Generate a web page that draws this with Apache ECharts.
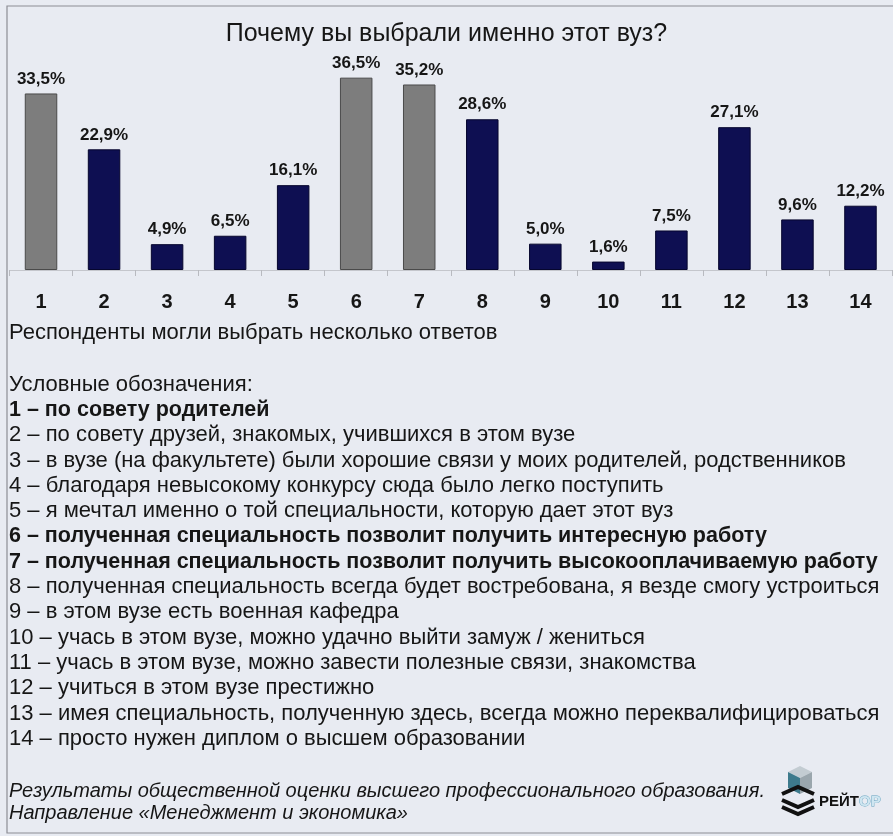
<!DOCTYPE html>
<html><head><meta charset="utf-8">
<script src="https://cdn.jsdelivr.net/npm/echarts@6/dist/echarts.min.js"></script>
<style>html,body{margin:0;padding:0;background:#e8ebf2}#c{width:893px;height:836px}</style>
</head><body><div id="c"></div>
<script>
const titleText = 'Почему вы выбрали именно этот вуз?';
const categories = ['1','2','3','4','5','6','7','8','9','10','11','12','13','14'];
const values = [33.5, 22.9, 4.9, 6.5, 16.1, 36.5, 35.2, 28.6, 5.0, 1.6, 7.5, 27.1, 9.6, 12.2];
const greyCategories = ['1', '6', '7'];
const noteText = 'Респонденты могли выбрать несколько ответов';
const legendHeader = 'Условные обозначения:';
const legendItems = [
  '1 – по совету родителей',
  '2 – по совету друзей, знакомых, учившихся в этом вузе',
  '3 – в вузе (на факультете) были хорошие связи у моих родителей, родственников',
  '4 – благодаря невысокому конкурсу сюда было легко поступить',
  '5 – я мечтал именно о той специальности, которую дает этот вуз',
  '6 – полученная специальность позволит получить интересную работу',
  '7 – полученная специальность позволит получить высокооплачиваемую работу',
  '8 – полученная специальность всегда будет востребована, я везде смогу устроиться',
  '9 – в этом вузе есть военная кафедра',
  '10 – учась в этом вузе, можно удачно выйти замуж / жениться',
  '11 – учась в этом вузе, можно завести полезные связи, знакомства',
  '12 – учиться в этом вузе престижно',
  '13 – имея специальность, полученную здесь, всегда можно переквалифицироваться',
  '14 – просто нужен диплом о высшем образовании'
];
const sourceLines = [
  'Результаты общественной оценки высшего профессионального образования.',
  'Направление «Менеджмент и экономика»'
];
const logoText = ['РЕЙТ', 'ОР'];

const FONT = '"Liberation Sans", Arial, sans-serif';
const chart = echarts.init(document.getElementById('c'), null, {renderer: 'canvas'});

const textEls = [];
function addText(str, y, size, weight, style) {
  textEls.push({
    type: 'text', x: 9, y: y,
    style: {text: str, fontFamily: FONT, fontSize: size, fontWeight: weight || 'normal',
            fontStyle: style || 'normal', fill: '#161616', textVerticalAlign: 'middle'}
  });
}
addText(noteText, 333, 22);
addText(legendHeader, 385, 22);
legendItems.forEach((s, i) => {
  const bold = greyCategories.includes(String(i + 1));
  addText(s, 410 + i * 25.3, bold ? 21.5 : 22, bold ? 'bold' : 'normal');
});
addText(sourceLines[0], 791, 20, 'normal', 'italic');
addText(sourceLines[1], 813, 20, 'normal', 'italic');

const option = {
  backgroundColor: '#e8ebf2',
  animation: false,
  title: {
    text: titleText, left: 'center', top: 17,
    textStyle: {fontFamily: FONT, fontSize: 25, fontWeight: 'normal', color: '#161616'}
  },
  grid: {left: 9.5, right: 1, top: 59.2, bottom: 566},
  xAxis: {
    type: 'category', data: categories,
    axisLine: {lineStyle: {color: '#c4c6cc', width: 1}},
    axisTick: {show: true, length: 6, lineStyle: {color: '#b8bac0'}},
    axisLabel: {margin: 22, fontFamily: FONT, fontSize: 20, fontWeight: 'bold', color: '#161616'}
  },
  yAxis: {type: 'value', min: 0, max: 40, show: false, splitLine: {show: false}},
  series: [{
    type: 'bar', barWidth: 32.5,
    data: values.map((v, i) => ({
      value: v,
      itemStyle: greyCategories.includes(categories[i])
        ? {color: '#7d7d7d', borderColor: '#4a4a4a', borderWidth: 1}
        : {color: '#0e0f52', borderColor: '#06062e', borderWidth: 1}
    })),
    label: {
      show: true, position: 'top', distance: 6,
      fontFamily: FONT, fontSize: 17, fontWeight: 'bold', color: '#161616',
      formatter: p => p.value.toFixed(1).replace('.', ',') + '%'
    }
  }],
  graphic: [
    {type: 'rect', shape: {x: 7, y: 6, width: 900, height: 827},
     style: {fill: 'none', stroke: '#8c8e94', lineWidth: 1.2}, silent: true, z: -1},
    ...textEls,
    {type: 'group', x: 780, y: 764, children: [
      {type: 'polygon', shape: {points: [[8,8],[20,2],[32,8],[20,14]]}, style: {fill: '#c3ccd2'}},
      {type: 'polygon', shape: {points: [[8,8],[20,14],[20,30],[8,24]]}, style: {fill: '#3d7a8c'}},
      {type: 'polygon', shape: {points: [[20,14],[32,8],[32,24],[20,30]]}, style: {fill: '#9aa6ad'}},
      {type: 'polyline', shape: {points: [[2,30],[18,23],[34,30]]}, style: {stroke: '#111', lineWidth: 4, fill: 'none'}},
      {type: 'polyline', shape: {points: [[2,36],[18,43],[34,36]]}, style: {stroke: '#111', lineWidth: 4, fill: 'none'}},
      {type: 'polyline', shape: {points: [[2,43],[18,50],[34,43]]}, style: {stroke: '#111', lineWidth: 4, fill: 'none'}},
      {type: 'text', x: 39, y: 38, style: {text: logoText[0], fontFamily: FONT, fontSize: 15, fontWeight: 'bold', fill: '#111', textVerticalAlign: 'middle'}},
      {type: 'text', x: 79, y: 38, style: {text: logoText[1], fontFamily: FONT, fontSize: 15, fontWeight: 'bold', fill: '#cfe6f1', stroke: '#5f9fbd', lineWidth: 0.8, textVerticalAlign: 'middle'}}
    ]}
  ]
};
chart.setOption(option);
</script>
</body></html>
